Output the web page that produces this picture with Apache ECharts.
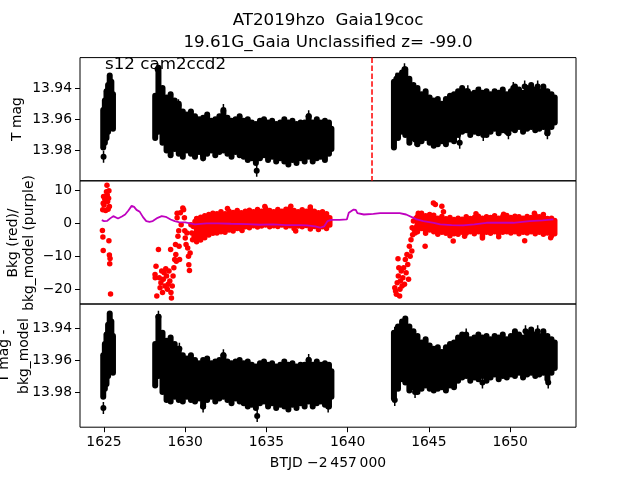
<!DOCTYPE html>
<html>
<head>
<meta charset="utf-8">
<script src="https://cdn.jsdelivr.net/npm/echarts@6/dist/echarts.min.js"></script>
<style>
  html, body { margin: 0; padding: 0; background: #fff; }
  #chart { width: 640px; height: 480px; }
</style>
</head>
<body>
<div id="chart"></div>
<script>
// ---- data ----
// time samples of the dense black light curve (BTJD - 2457000)
const lcT = [
  1624.95, 1625.05, 1625.15, 1625.25, 1625.35, 1625.45, 1625.55,
  1628.15, 1628.35, 1628.6, 1628.85, 1629.1, 1629.35, 1629.6, 1629.85, 1630.1, 1630.35,
  1630.6, 1630.85, 1631.1, 1631.35, 1631.6, 1631.85, 1632.1, 1632.35, 1632.6, 1632.85,
  1633.1, 1633.35, 1633.6, 1633.85, 1634.1, 1634.35, 1634.6, 1634.85, 1635.1, 1635.35,
  1635.6, 1635.85, 1636.1, 1636.35, 1636.6, 1636.85, 1637.1, 1637.35, 1637.6, 1637.85,
  1638.1, 1638.35, 1638.6, 1638.85, 1639.0,
  1642.85, 1643.1, 1643.35, 1643.55, 1643.8, 1644.05, 1644.3, 1644.55, 1644.8, 1645.05,
  1645.3, 1645.55, 1645.8, 1646.05, 1646.3, 1646.55, 1646.8, 1647.05, 1647.3, 1647.55,
  1647.8, 1648.05, 1648.3, 1648.55, 1648.8, 1649.05, 1649.3, 1649.55, 1649.8, 1650.05,
  1650.3, 1650.55, 1650.8, 1651.05, 1651.3, 1651.55, 1651.8, 1652.05, 1652.3, 1652.55, 1652.75
];
// T mag: bright / faint edge of the band at each sample
const magHi = [
  13.954, 13.948, 13.942, 13.938, 13.932, 13.936, 13.944,
  13.945, 13.927, 13.940, 13.946, 13.944, 13.948, 13.950, 13.955, 13.957, 13.955,
  13.958, 13.960, 13.959, 13.957, 13.961, 13.960, 13.958, 13.955, 13.959, 13.961,
  13.960, 13.958, 13.961, 13.960, 13.962, 13.963, 13.961, 13.960, 13.962, 13.961,
  13.963, 13.962, 13.960, 13.962, 13.961, 13.963, 13.962, 13.962, 13.958, 13.962,
  13.960, 13.962, 13.961, 13.962, 13.966,
  13.936, 13.932, 13.930, 13.928, 13.934, 13.938, 13.940, 13.944, 13.942, 13.946,
  13.948, 13.947, 13.950, 13.947, 13.945, 13.944, 13.942, 13.940, 13.942, 13.944,
  13.943, 13.941, 13.943, 13.942, 13.944, 13.942, 13.943, 13.941, 13.944, 13.942,
  13.939, 13.941, 13.943, 13.940, 13.938, 13.941, 13.942, 13.939, 13.942, 13.944, 13.946
];
const magLo = [
  13.978, 13.975, 13.972, 13.968, 13.965, 13.962, 13.966,
  13.972, 13.968, 13.975, 13.980, 13.983, 13.979, 13.982, 13.984, 13.980, 13.982,
  13.984, 13.981, 13.985, 13.982, 13.980, 13.983, 13.981, 13.980, 13.982, 13.984,
  13.981, 13.983, 13.984, 13.986, 13.985, 13.988, 13.985, 13.983, 13.986, 13.984,
  13.987, 13.985, 13.987, 13.989, 13.986, 13.988, 13.985, 13.987, 13.984, 13.987,
  13.985, 13.984, 13.986, 13.982, 13.979,
  13.978, 13.972, 13.968, 13.970, 13.975, 13.972, 13.976, 13.974, 13.972, 13.975,
  13.977, 13.976, 13.974, 13.976, 13.973, 13.974, 13.970, 13.968, 13.967, 13.970,
  13.968, 13.969, 13.967, 13.970, 13.968, 13.966, 13.969, 13.967, 13.968, 13.966,
  13.967, 13.965, 13.968, 13.966, 13.965, 13.967, 13.966, 13.965, 13.969, 13.965, 13.962
];
// T mag - bkg_model (bottom panel)
const subHi = [
  13.957, 13.950, 13.944, 13.938, 13.931, 13.936, 13.945,
  13.950, 13.933, 13.943, 13.948, 13.946, 13.950, 13.953, 13.957, 13.959, 13.957,
  13.960, 13.962, 13.960, 13.959, 13.962, 13.961, 13.960, 13.957, 13.961, 13.962,
  13.961, 13.960, 13.962, 13.961, 13.963, 13.964, 13.962, 13.961, 13.963, 13.962,
  13.964, 13.963, 13.961, 13.963, 13.962, 13.964, 13.963, 13.963, 13.960, 13.963,
  13.961, 13.963, 13.962, 13.963, 13.967,
  13.943, 13.939, 13.936, 13.934, 13.939, 13.942, 13.945, 13.949, 13.947, 13.951,
  13.953, 13.952, 13.955, 13.952, 13.950, 13.949, 13.946, 13.944, 13.945, 13.947,
  13.946, 13.944, 13.946, 13.945, 13.947, 13.945, 13.946, 13.944, 13.947, 13.945,
  13.942, 13.944, 13.946, 13.943, 13.941, 13.944, 13.945, 13.942, 13.945, 13.947, 13.949
];
const subLo = [
  13.983, 13.978, 13.975, 13.970, 13.966, 13.963, 13.968,
  13.976, 13.970, 13.980, 13.985, 13.986, 13.983, 13.985, 13.986, 13.983, 13.985,
  13.986, 13.984, 13.989, 13.985, 13.983, 13.986, 13.984, 13.983, 13.985, 13.987,
  13.984, 13.986, 13.987, 13.989, 13.988, 13.990, 13.987, 13.986, 13.989, 13.987,
  13.990, 13.988, 13.989, 13.991, 13.988, 13.990, 13.987, 13.989, 13.986, 13.989,
  13.987, 13.986, 13.988, 13.989, 13.983,
  13.984, 13.978, 13.972, 13.974, 13.979, 13.977, 13.980, 13.978, 13.976, 13.978,
  13.979, 13.978, 13.977, 13.979, 13.976, 13.977, 13.973, 13.971, 13.970, 13.973,
  13.971, 13.972, 13.970, 13.973, 13.971, 13.969, 13.972, 13.970, 13.971, 13.969,
  13.970, 13.968, 13.971, 13.969, 13.968, 13.970, 13.969, 13.968, 13.972, 13.968, 13.965
];
// isolated black points [t, mag]
const magOut = [
  [1624.97, 13.984], [1628.3, 13.928], [1629.58, 13.951], [1631.1, 13.983], [1632.35, 13.954],
  [1634.4, 13.993], [1637.6, 13.958], [1643.0, 13.934], [1643.5, 13.928], [1644.15, 13.973],
  [1646.1, 13.972], [1646.9, 13.975], [1647.4, 13.942], [1648.15, 13.943], [1648.35, 13.970],
  [1649.9, 13.969], [1650.2, 13.940], [1650.9, 13.939], [1651.7, 13.939], [1652.3, 13.969]
];
const subOut = [
  [1624.96, 13.990], [1628.35, 13.933], [1629.0, 13.952], [1629.64, 13.953], [1631.1, 13.989],
  [1632.35, 13.957], [1634.43, 13.995], [1637.6, 13.960], [1638.8, 13.989], [1642.9, 13.943],
  [1642.9, 13.985], [1643.5, 13.937], [1644.15, 13.980], [1647.3, 13.944], [1648.3, 13.974],
  [1650.95, 13.942], [1651.7, 13.942], [1652.35, 13.974]
];

// background (red): dense part as top / bottom edge per sample
const bkgT = [
  1630.7, 1630.95, 1631.2, 1631.45, 1631.7, 1631.95, 1632.2, 1632.45, 1632.7, 1632.95,
  1633.2, 1633.45, 1633.7, 1633.95, 1634.2, 1634.45, 1634.7, 1634.95, 1635.2, 1635.45,
  1635.7, 1635.95, 1636.2, 1636.45, 1636.7, 1636.95, 1637.2, 1637.45, 1637.7, 1637.95,
  1638.2, 1638.45, 1638.7, 1638.9,
  1644.3, 1644.55, 1644.8, 1645.05, 1645.3, 1645.55, 1645.8, 1646.05, 1646.3, 1646.55,
  1646.8, 1647.05, 1647.3, 1647.55, 1647.8, 1648.05, 1648.3, 1648.55, 1648.8, 1649.05,
  1649.3, 1649.55, 1649.8, 1650.05, 1650.3, 1650.55, 1650.8, 1651.05, 1651.3, 1651.55,
  1651.8, 1652.05, 1652.3, 1652.55, 1652.75
];
const bkgHi = [
  1.4, 1.8, 2.2, 2.6, 3.0, 2.8, 3.4, 2.8, 3.6, 3.2,
  3.8, 3.1, 3.6, 3.9, 3.4, 4.1, 3.6, 4.4, 3.8, 3.4,
  4.1, 3.6, 4.2, 4.5, 3.8, 3.4, 4.0, 3.6, 4.4, 3.6,
  3.1, 3.4, 2.8, 1.6,
  2.0, 3.0, 2.2, 2.6, 2.4, 1.5, 2.0, 1.3, 1.7, 1.1,
  1.5, 1.2, 1.9, 1.4, 1.7, 2.1, 1.5, 1.9, 1.7, 2.2,
  1.5, 2.0, 2.3, 1.7, 2.1, 1.9, 1.5, 2.0, 1.7, 2.3,
  1.9, 1.7, 1.4, 1.5, 0.8
];
const bkgLo = [
  -5.6, -5.1, -4.4, -3.6, -3.1, -3.0, -2.6, -2.8, -2.1, -2.4,
  -1.6, -1.8, -1.1, -1.4, -0.8, -1.2, -0.9, -0.6, -1.1, -0.8,
  -1.0, -0.6, -1.2, -0.8, -1.6, -0.9, -1.1, -0.7, -1.8, -1.0,
  -1.9, -1.1, -1.6, -0.6,
  -2.6, -1.6, -3.1, -2.1, -2.6, -3.4, -2.8, -3.1, -3.8, -3.2,
  -3.4, -2.8, -3.1, -2.6, -3.2, -2.6, -4.1, -2.8, -3.1, -2.6,
  -3.2, -2.8, -2.6, -3.0, -2.6, -3.2, -2.8, -3.0, -2.6, -3.2,
  -2.8, -3.4, -3.0, -3.8, -3.2
];
// background (red): scattered points [t, value]
const bkgPts = [
  [1624.9, -2.2], [1624.93, -4.2], [1624.95, -8.3], [1624.92, 4.0], [1624.95, 6.0], [1624.97, 8.0],
  [1625.0, 5.5], [1625.05, 7.2], [1625.1, 3.8], [1625.15, 9.5], [1625.18, 11.4], [1625.2, 8.5],
  [1625.22, 6.5], [1625.25, 4.2], [1625.28, 7.5], [1625.3, 9.8], [1625.33, 5.0], [1625.3, -5.3],
  [1625.33, -9.6], [1625.37, -10.7], [1625.35, -12.3], [1625.4, -21.4],
  [1628.14, -15.5], [1628.15, -16.5], [1628.2, -13.0], [1628.25, -22.0], [1628.35, -8.0],
  [1628.4, -16.5], [1628.45, -19.5], [1628.5, -18.0], [1628.55, -14.5], [1628.6, -21.0],
  [1628.65, -17.0], [1628.7, -15.0], [1628.75, -19.0], [1628.8, -13.8], [1628.85, -16.0],
  [1628.9, -20.0], [1628.95, -18.5], [1629.0, -14.5], [1629.05, -17.5], [1629.1, -8.0],
  [1629.12, -21.0], [1629.15, -22.6], [1629.2, -19.0], [1629.25, -16.0], [1629.3, -13.5],
  [1629.35, -11.0], [1629.4, -6.5], [1629.42, -9.5], [1629.45, -11.5], [1629.5, 3.0],
  [1629.5, 1.6], [1629.55, -4.0], [1629.6, -2.3], [1629.62, -7.0], [1629.65, -11.0],
  [1629.7, 3.1], [1629.75, -0.5], [1629.85, 4.6], [1629.9, 4.0], [1629.95, 1.6],
  [1629.97, -2.3], [1630.0, -4.5], [1630.05, -6.5], [1630.1, -3.0], [1630.15, -7.5],
  [1630.2, -10.0], [1630.22, -12.6], [1630.26, -14.3], [1630.3, -9.0], [1630.35, -0.5],
  [1630.4, -3.0], [1630.45, -5.0], [1630.5, -1.0], [1630.55, -4.0], [1630.6, 0.5],
  [1642.9, -19.5], [1642.95, -20.5], [1643.0, -21.5], [1643.05, -18.0], [1643.1, -10.8],
  [1643.12, -16.0], [1643.15, -13.5], [1643.2, -22.0], [1643.22, -20.0], [1643.25, -17.5],
  [1643.3, -14.5], [1643.35, -19.0], [1643.4, -16.5], [1643.45, -13.5], [1643.5, -18.5],
  [1643.55, -11.0], [1643.6, -15.0], [1643.65, -9.5], [1643.7, -12.5], [1643.75, -17.0],
  [1643.8, -7.0], [1643.85, -10.0], [1643.9, -5.0], [1643.95, -8.4], [1643.97, -1.4],
  [1644.0, -3.5], [1644.05, 0.6], [1644.1, -2.0], [1644.15, -3.0], [1644.2, 1.5],
  [1644.25, -1.0], [1644.35, 3.0], [1644.46, 1.0], [1644.77, -7.0], [1645.28, 6.1],
  [1645.4, 5.6], [1645.8, 5.1], [1646.5, -5.4], [1648.3, -4.5], [1650.9, -5.3], [1652.05, 2.6],
  [1632.6, 4.4], [1634.9, 5.0], [1636.5, 5.1], [1637.7, 4.9], [1633.5, -2.2], [1636.8, -2.4],
  [1645.9, 3.4], [1647.9, 2.8], [1649.6, 2.7], [1651.5, 3.0], [1647.2, -4.0], [1649.3, -4.1],
  [1652.5, -4.4]
];
// bkg_model (purple)
const modelT = [
  1624.86, 1625.0, 1625.2, 1625.4, 1625.57, 1625.86, 1626.1, 1626.3, 1626.5, 1626.7,
  1626.85, 1627.0, 1627.2, 1627.4, 1627.6, 1627.8, 1628.0, 1628.3, 1628.55, 1628.8,
  1629.1, 1629.35, 1629.6, 1630.0, 1630.6, 1631.3, 1632.0, 1632.8, 1633.8, 1634.6,
  1635.4, 1636.2, 1637.0, 1637.5, 1638.0, 1638.3, 1638.55, 1638.76, 1639.0, 1639.5,
  1639.95, 1640.07, 1640.37, 1640.5, 1640.6, 1640.7, 1641.0, 1641.58, 1642.0, 1642.5,
  1643.2, 1643.6, 1644.05, 1644.25, 1644.66, 1645.3, 1645.7, 1646.4, 1647.1, 1647.8,
  1648.55, 1649.4, 1650.2, 1651.2, 1652.0, 1652.67
];
const modelV = [
  0.9, 0.6, 0.7, 1.5, 2.1, 1.4, 2.0, 2.6, 3.8, 5.2,
  4.9, 4.0, 3.4, 1.8, 0.6, 0.4, 0.6, 1.6, 2.1, 1.9,
  1.1, 0.6, 0.3, 0.2, -0.4, -0.1, -0.1, -0.2, -0.3, -0.5,
  -0.4, -0.6, -0.6, -0.7, -1.0, -1.4, -1.0, 0.6, 1.0, 1.0,
  1.1, 3.1, 4.1, 4.0, 3.0, 2.6, 2.6, 2.8, 3.0, 3.0,
  3.0, 2.6, 1.6, 1.1, 0.6, 0.1, -0.4, -0.6, -0.7, -0.4,
  0.1, 0.1, 0.1, 0.6, 0.8, 1.1
];
const eventT = [1641.5];

// axes
const xRange = [1623.52, 1654.06];
const xTicks = [1625, 1630, 1635, 1640, 1645, 1650];
const magRange = [13.9205, 13.9994];
const subRange = [13.925, 14.002];
const bkgRange = [-24.44, 12.78];
const magTicks = [13.94, 13.96, 13.98];
const bkgTicks = [10, 0, -10, -20];

const FONT = 'DejaVu Sans';
const chart = echarts.init(document.getElementById('chart'), null, { renderer: 'canvas' });

const tops = [57.6, 180.8, 304];
const H = 123.2;

function xAxisFor(i) {
  const last = i === 2;
  return {
    type: 'value', gridIndex: i, min: xRange[0], max: xRange[1],
    axisLine: { show: false }, splitLine: { show: false },
    axisTick: { show: last, length: 5, customValues: xTicks, lineStyle: { color: '#000' } },
    axisLabel: { show: last, customValues: xTicks, margin: 8, color: '#000',
      fontFamily: FONT, fontSize: 13.9, formatter: v => String(v) }
  };
}
function yAxisFor(i, range, ticks, inverse, fmt) {
  return {
    type: 'value', gridIndex: i, min: range[0], max: range[1], inverse: inverse,
    axisLine: { show: false }, splitLine: { show: false },
    axisTick: { show: true, length: 5, customValues: ticks, lineStyle: { color: '#000' } },
    axisLabel: { customValues: ticks, margin: 8, color: '#000', fontFamily: FONT, fontSize: 13.9,
      formatter: fmt }
  };
}

function bandItem(color, width) {
  return function (params, api) {
    const t = api.value(0);
    const a = api.coord([t, api.value(1)]);
    const b = api.coord([t, api.value(2)]);
    return { type: 'line', shape: { x1: a[0], y1: a[1], x2: b[0], y2: b[1] },
      style: { stroke: color, lineWidth: width, lineCap: 'round' } };
  };
}
function errPoint(params, api) {
  const p = api.coord([api.value(0), api.value(1)]);
  return { type: 'group', children: [
    { type: 'line', shape: { x1: p[0], y1: p[1] - 6, x2: p[0], y2: p[1] + 6 },
      style: { stroke: '#000', lineWidth: 1.5 } },
    { type: 'circle', shape: { cx: p[0], cy: p[1], r: 3 }, style: { fill: '#000' } }
  ] };
}
function eventLine(params, api) {
  const p = api.coord([api.value(0), magRange[0]]);
  const cs = params.coordSys;
  return { type: 'line', shape: { x1: p[0], y1: cs.y, x2: p[0], y2: cs.y + cs.height },
    style: { stroke: '#ff0000', lineWidth: 1.5, lineDash: [5.5, 2.4] } };
}

const magData = lcT.map((t, i) => [t, magHi[i], magLo[i]]);
const subData = lcT.map((t, i) => [t, subHi[i], subLo[i]]);
const bkgData = bkgT.map((t, i) => [t, bkgHi[i], bkgLo[i]]);
const modelData = modelT.map((t, i) => [t, modelV[i]]);
const minus = v => String(v).replace('-', '\u2212');

function rotText(x, y, text, lh) {
  return { type: 'text', x: x, y: y, rotation: Math.PI / 2,
    style: { text: text, fill: '#000', fontFamily: FONT, fontSize: 13.9, lineHeight: lh || 16,
      align: 'center', verticalAlign: 'middle' } };
}
function plainText(x, y, text, size, align) {
  return { type: 'text', x: x, y: y,
    style: { text: text, fill: '#000', fontFamily: FONT, fontSize: size,
      align: align || 'center', verticalAlign: 'middle' } };
}

chart.setOption({
  animation: false,
  backgroundColor: '#fff',
  grid: tops.map(t => ({ left: 80, width: 496, top: t, height: H, show: true,
    borderColor: '#000', borderWidth: 1, backgroundColor: 'transparent' })),
  xAxis: [xAxisFor(0), xAxisFor(1), xAxisFor(2)],
  yAxis: [
    yAxisFor(0, magRange, magTicks, true, v => v.toFixed(2)),
    yAxisFor(1, bkgRange, bkgTicks, false, minus),
    yAxisFor(2, subRange, magTicks, true, v => v.toFixed(2))
  ],
  series: [
    { type: 'custom', xAxisIndex: 0, yAxisIndex: 0, data: magData, encode: { x: 0, y: [1, 2] },
      renderItem: bandItem('#000', 6), clip: true },
    { type: 'custom', xAxisIndex: 0, yAxisIndex: 0, data: magOut, renderItem: errPoint, clip: true },
    { type: 'custom', xAxisIndex: 0, yAxisIndex: 0, data: eventT.map(t => [t]),
      encode: { x: 0 }, renderItem: eventLine },
    { type: 'custom', xAxisIndex: 1, yAxisIndex: 1, data: bkgData, encode: { x: 0, y: [1, 2] },
      renderItem: bandItem('#ff0000', 5.5), clip: true },
    { type: 'scatter', xAxisIndex: 1, yAxisIndex: 1, data: bkgPts, symbolSize: 5.5,
      itemStyle: { color: '#ff0000', opacity: 1 }, clip: true },
    { type: 'line', xAxisIndex: 1, yAxisIndex: 1, data: modelData, showSymbol: false,
      lineStyle: { color: '#bf00bf', width: 1.8 } },
    { type: 'custom', xAxisIndex: 2, yAxisIndex: 2, data: subData, encode: { x: 0, y: [1, 2] },
      renderItem: bandItem('#000', 6), clip: true },
    { type: 'custom', xAxisIndex: 2, yAxisIndex: 2, data: subOut, renderItem: errPoint, clip: true }
  ],
  graphic: [
    plainText(328, 21, 'AT2019hzo  Gaia19coc', 16.7),
    plainText(328, 43, '19.61G_Gaia Unclassified z= -99.0', 16.7),
    plainText(105, 65, 's12 cam2ccd2', 16.7, 'left'),
    rotText(17, 119, 'T mag'),
    rotText(21, 243, 'Bkg (red)/\nbkg_model (purple)'),
    rotText(14, 356, 'T mag -\nbkg_model', 20)
  ].concat([plainText(328, 463, 'BTJD \u22122\u2009457\u2009000', 13.9)])
});
</script>
</body>
</html>
